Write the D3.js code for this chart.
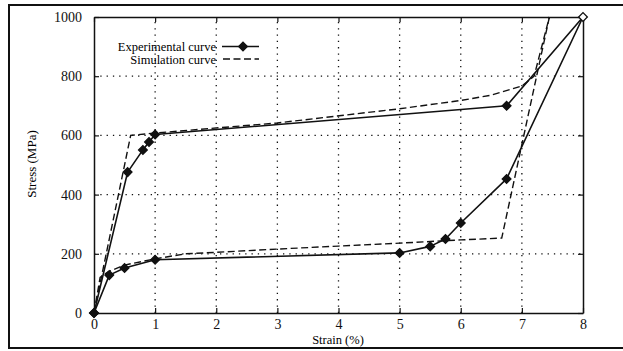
<!DOCTYPE html>
<html>
<head>
<meta charset="utf-8">
<script src="https://cdn.jsdelivr.net/npm/d3@7"></script>
<style>
  body { margin: 0; background: #fff; }
</style>
</head>
<body>
<div class="chart"></div>
<script>
// Experimental curve (loading then unloading), strain in %, stress in MPa
const expLoadStrain = [0, 0.55, 0.8, 0.9, 1.0, 6.75, 8];
const expLoadStress = [0, 476, 551, 578, 603, 700, 1000];
const expUnloadStrain = [8, 6.75, 6.0, 5.75, 5.5, 5.0, 1.0, 0.5, 0.25, 0];
const expUnloadStress = [1000, 453, 304, 250, 225, 203, 180, 152, 128, 0];

// Simulation curve
const simLoadStrain = [0, 0.6, 1, 3, 5, 6, 6.5, 7.0, 7.2, 7.45];
const simLoadStress = [0, 600, 608, 642, 690, 718, 736, 767, 800, 1000];
const simUnloadStrain = [7.45, 6.67, 6, 5, 4, 3, 2, 1.5, 1, 0.5, 0.23, 0.1, 0];
const simUnloadStress = [1000, 253, 247, 236, 226, 216, 205, 200, 183, 162, 139, 120, 0];

const xTicks = [0, 1, 2, 3, 4, 5, 6, 7, 8];
const yTicks = [0, 200, 400, 600, 800, 1000];
const legendLabels = ["Experimental curve", "Simulation curve"];

const FONT = "'Liberation Serif', 'Times New Roman', 'DejaVu Serif', serif";
const W = 623, H = 351;
const svg = d3.select(".chart").append("svg")
    .attr("width", W)
    .attr("height", H)
    .style("font-family", FONT);

const x = d3.scaleLinear().domain([0, 8]).range([94, 583]);
const y = d3.scaleLinear().domain([0, 1000]).range([313, 17]);

// outer frame (right side runs off the picture)
svg.append("path")
    .attr("d", `M${W + 5},5 H9 V348 H${W + 5}`)
    .attr("fill", "none")
    .attr("stroke", "#111")
    .attr("stroke-width", 2);

// dotted grid
svg.append("g")
    .selectAll("line")
    .data(xTicks.slice(1, -1))
    .join("line")
    .attr("x1", d => x(d)).attr("x2", d => x(d))
    .attr("y1", y(0)).attr("y2", y(1000))
    .attr("stroke", "#111")
    .attr("stroke-width", 1.3)
    .attr("stroke-dasharray", "1.3,5");

svg.append("g")
    .selectAll("line")
    .data(yTicks.slice(1, -1))
    .join("line")
    .attr("x1", x(0)).attr("x2", x(8))
    .attr("y1", d => y(d)).attr("y2", d => y(d))
    .attr("stroke", "#111")
    .attr("stroke-width", 1.3)
    .attr("stroke-dasharray", "1.3,5");

// axes with inward ticks on all four sides
const axisStyle = g => {
    g.attr("font-family", FONT);
    g.select(".domain").attr("stroke", "#111").attr("stroke-width", 1.5);
    g.selectAll(".tick line").attr("stroke", "#111").attr("stroke-width", 1.2);
    g.selectAll("text").attr("font-size", 14).attr("fill", "#111")
        .style("font-family", FONT);
};

svg.append("g")
    .attr("transform", `translate(0,${y(0)})`)
    .call(d3.axisBottom(x).tickValues(xTicks).tickFormat(d3.format("d"))
        .tickSizeInner(-5).tickSizeOuter(0).tickPadding(6))
    .call(axisStyle);

svg.append("g")
    .attr("transform", `translate(0,${y(1000)})`)
    .call(d3.axisTop(x).tickValues(xTicks).tickFormat("")
        .tickSizeInner(-5).tickSizeOuter(0))
    .call(axisStyle);

svg.append("g")
    .attr("transform", `translate(${x(0)},0)`)
    .call(d3.axisLeft(y).tickValues(yTicks).tickFormat(d3.format("d"))
        .tickSizeInner(-5).tickSizeOuter(0).tickPadding(12))
    .call(axisStyle);

svg.append("g")
    .attr("transform", `translate(${x(8)},0)`)
    .call(d3.axisRight(y).tickValues(yTicks).tickFormat("")
        .tickSizeInner(-5).tickSizeOuter(0))
    .call(axisStyle);

// axis titles
svg.append("text")
    .attr("x", 338).attr("y", 344)
    .attr("text-anchor", "middle")
    .attr("font-size", 12.5)
    .style("font-family", FONT)
    .text("Strain (%)");

svg.append("text")
    .attr("transform", "translate(36,164) rotate(-90)")
    .attr("text-anchor", "middle")
    .attr("font-size", 13)
    .style("font-family", FONT)
    .text("Stress (MPa)");

// curves
const line = d3.line().x(d => x(d[0])).y(d => y(d[1]));
const zip = (a, b) => a.map((v, i) => [v, b[i]]);

const expLoad = zip(expLoadStrain, expLoadStress);
const expUnload = zip(expUnloadStrain, expUnloadStress);
const simLoad = zip(simLoadStrain, simLoadStress);
const simUnload = zip(simUnloadStrain, simUnloadStress);

[simLoad, simUnload].forEach(data => {
    svg.append("path")
        .attr("d", line(data))
        .attr("fill", "none")
        .attr("stroke", "#111")
        .attr("stroke-width", 1.4)
        .attr("stroke-dasharray", "7,3.5");
});

[expLoad, expUnload].forEach(data => {
    svg.append("path")
        .attr("d", line(data))
        .attr("fill", "none")
        .attr("stroke", "#111")
        .attr("stroke-width", 1.6)
        .attr("stroke-linejoin", "round");
});

// square diamonds: a square turned by 45 degrees
const diamond = d3.symbol().type(d3.symbolSquare).size(38);
const markers = expLoad.concat(expUnload.slice(1));
svg.append("g")
    .selectAll("path")
    .data(markers)
    .join("path")
    .attr("d", diamond)
    .attr("transform", d => `translate(${x(d[0])},${y(d[1])}) rotate(45)`)
    .attr("fill", d => d[0] === 8 ? "#fff" : "#111")
    .attr("stroke", "#111")
    .attr("stroke-width", 1.3);

// legend
const legend = svg.append("g").style("font-family", FONT);
legend.append("text")
    .attr("x", 216).attr("y", 51)
    .attr("text-anchor", "end")
    .attr("font-size", 12.5)
    .text(legendLabels[0]);
legend.append("text")
    .attr("x", 216).attr("y", 63.5)
    .attr("text-anchor", "end")
    .attr("font-size", 12.5)
    .text(legendLabels[1]);
legend.append("line")
    .attr("x1", 222).attr("x2", 259)
    .attr("y1", 46.5).attr("y2", 46.5)
    .attr("stroke", "#111").attr("stroke-width", 1.6);
legend.append("path")
    .attr("d", diamond)
    .attr("transform", "translate(243,46.5) rotate(45)")
    .attr("fill", "#111")
    .attr("stroke", "#111")
    .attr("stroke-width", 1.3);
legend.append("line")
    .attr("x1", 223).attr("x2", 259)
    .attr("y1", 59).attr("y2", 59)
    .attr("stroke", "#111").attr("stroke-width", 1.4)
    .attr("stroke-dasharray", "7,3.5");
</script>
</body>
</html>
